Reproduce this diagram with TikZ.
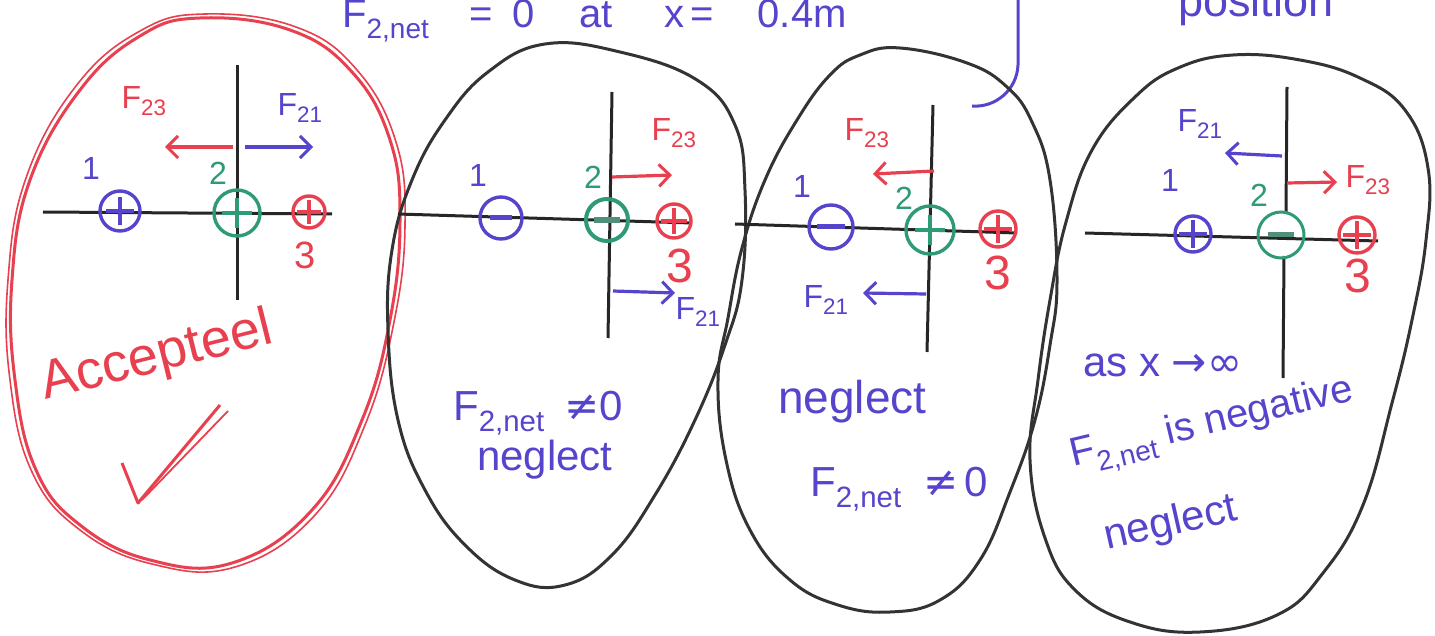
\documentclass[tikz,border=0pt]{standalone}
\usepackage{fontspec}
\setmainfont{Liberation Sans}
\newfontfamily\symf{DejaVu Sans}
\usetikzlibrary{arrows.meta}
\definecolor{pblue}{HTML}{5544CC}
\definecolor{pred}{HTML}{E8404F}
\definecolor{pgreen}{HTML}{2E9A78}
\definecolor{pgray}{HTML}{333333}
\newcommand{\chgplus}[3]{%
  \draw[sgn,#1] ([xshift=-#3 pt]#2.center) -- ([xshift=#3 pt]#2.center);
  \draw[sgn,#1] ([yshift=-#3 pt]#2.center) -- ([yshift=#3 pt]#2.center);}
\newcommand{\chgminus}[3]{%
  \draw[sgn,#1,line width=5pt] ([xshift=-#3 pt]#2.center) -- ([xshift=#3 pt]#2.center);}
\newcommand{\neqs}{{\symf ≠}}
\begin{document}
\begin{tikzpicture}[x=1pt,y=-1pt,
  blob/.style={draw=pgray, line width=3pt, line join=round},
  redblob/.style={draw=pred, line width=3pt, line join=round},
  axis/.style={draw=black!85, line width=3pt},
  chg/.style={circle, draw=#1, line width=3.4pt, inner sep=0pt},
  sgn/.style={line width=3.2pt},
  farrow/.style={draw=#1, line width=3.2pt, -{Straight Barb[length=11pt,width=22pt,line width=3pt]}},
  lbl/.style={text=#1, font=\fontsize{32}{32}\selectfont, inner sep=0pt},
  big/.style={text=#1, font=\fontsize{48}{48}\selectfont, inner sep=0pt},
  note/.style={text=pblue, font=\fontsize{42}{42}\selectfont, inner sep=0pt, anchor=base west},
]
\useasboundingbox (0,0) rectangle (1435,636);
\fill[white] (0,0) rectangle (1435,636);

% ---------- top texts ----------
\node[note, font=\fontsize{40}{40}\selectfont] (title) at (342,28)
  {F\textsubscript{2,net}\hspace{40pt}=\hspace{20pt}0\hspace{44pt}at\hspace{52pt}x\hspace{6pt}=\hspace{44pt}0.4m};
\node[note, font=\fontsize{45}{45}\selectfont] (pos) at (1178,17) {position};
\draw[pblue, line width=3pt] (1018,0) -- (1018,65) .. controls (1017,90) and (995,108) .. (972,106);

% ---------- panel 1 (accepted) ----------
\draw[redblob] plot[smooth cycle, tension=0.7] coordinates {
  (200,18) (290,30) (352,72) (390,140) (400,220) (390,320) (362,420) (312,510)
  (232,563) (150,560) (80,525) (36,470) (15,380) (12,280) (30,180) (80,90) (140,36)};
\draw[redblob, line width=1.6pt] plot[smooth cycle, tension=0.7] coordinates {
  (205,14) (296,27) (357,70) (396,142) (405,225) (394,322) (365,425) (315,515)
  (235,567) (152,564) (80,530) (32,472) (10,380) (8,280) (26,178) (76,86) (140,31)};
\draw[axis] (43,212) -- (332,214);
\draw[axis] (237,65) -- (237,300);
\node[chg=pblue, minimum size=40pt] (a1) at (120,211) {};
\chgplus{pblue}{a1}{14}
\node[chg=pgreen, minimum size=46pt] (a2) at (237,213) {};
\chgplus{pgreen}{a2}{15}
\node[chg=pred, minimum size=32pt] (a3) at (309,212) {};
\chgplus{pred}{a3}{12}
\node[lbl=pblue] (a1l) at (91,168) {1};
\node[lbl=pgreen] (a2l) at (218,173) {2};
\node[lbl=pred, font=\fontsize{38}{38}\selectfont] (a3l) at (305,255) {3};
\node[lbl=pred] (aF23) at (144,101) {F\textsubscript{23}};
\node[lbl=pblue] (aF21) at (300,108) {F\textsubscript{21}};
\coordinate (aA) at (233,147); \coordinate (aB) at (165,147);
\coordinate (aC) at (245,147); \coordinate (aD) at (313,147);
\draw[farrow=pred] (aA) -- (aB);
\draw[farrow=pblue] (aC) -- (aD);
\node[note, text=pred, rotate=14, font=\fontsize{54}{54}\selectfont] (acc) at (45,400) {Accepteel};
\draw[pred, line width=3pt, line join=round] (122,463) -- (138,503) -- (220,405);
\draw[pred, line width=1.8pt] (142,500) -- (228,411);

% ---------- panel 2 ----------
\draw[blob] plot[smooth cycle, tension=0.7] coordinates {
  (545,44) (620,52) (697,80) (735,125) (745,190) (742,280) (725,345) (695,420)
  (655,495) (612,555) (565,585) (515,580) (465,545) (425,490) (398,420) (388,330)
  (392,250) (412,180) (445,120) (488,72)};
\draw[axis] (398,214) -- (692,223);
\draw[axis] (612,92) -- (608,338);
\node[chg=pblue, minimum size=42pt] (b1) at (501,218) {};
\chgminus{pblue}{b1}{11}
\node[chg=pgreen, minimum size=42pt, line width=4pt] (b2) at (607,220) {};
\draw[pgreen!60!gray, line width=6pt] ([xshift=-13pt]b2.center) -- ([xshift=13pt]b2.center);
\node[chg=pred, minimum size=34pt] (b3) at (674,221) {};
\chgplus{pred}{b3}{13}
\node[lbl=pblue] (b1l) at (478,175) {1};
\node[lbl=pgreen] (b2l) at (593,177) {2};
\node[big=pred] (b3l) at (680,266) {3};
\node[lbl=pred] (bF23) at (674,133) {F\textsubscript{23}};
\node[lbl=pblue] (bF21) at (698,312) {F\textsubscript{21}};
\coordinate (bA) at (612,177); \coordinate (bB) at (672,175);
\coordinate (bC) at (613,291); \coordinate (bD) at (675,293);
\draw[farrow=pred] (bA) -- (bB);
\draw[farrow=pblue] (bC) -- (bD);
\node[note] (bt1) at (453,420) {F\textsubscript{2,net}\hspace{20pt}\neqs0};
\node[note] (bt2) at (477,470) {neglect};

% ---------- panel 3 ----------
\draw[blob] plot[smooth cycle, tension=0.7] coordinates {
  (900,48) (967,63) (1007,87) (1032,122) (1050,180) (1057,280) (1050,345) (1035,420)
  (1010,492) (980,560) (940,600) (890,612) (838,605) (790,580) (750,530) (726,460)
  (718,380) (728,318) (742,248) (765,180) (797,120) (830,75) (860,55)};
\draw[axis] (735,224) -- (1017,233);
\draw[axis] (933,105) -- (927,352);
\node[chg=pblue, minimum size=44pt] (c1) at (831,227) {};
\chgminus{pblue}{c1}{14}
\node[chg=pgreen, minimum size=48pt] (c2) at (930,230) {};
\chgplus{pgreen}{c2}{15}
\node[chg=pred, minimum size=36pt] (c3) at (998,229) {};
\chgplus{pred}{c3}{14}
\node[lbl=pblue] (c1l) at (802,186) {1};
\node[lbl=pgreen] (c2l) at (904,198) {2};
\node[big=pred] (c3l) at (998,273) {3};
\node[lbl=pred] (cF23) at (867,133) {F\textsubscript{23}};
\node[lbl=pblue] (cF21) at (826,300) {F\textsubscript{21}};
\coordinate (cA) at (934,171); \coordinate (cB) at (873,174);
\coordinate (cC) at (926,294); \coordinate (cD) at (863,293);
\draw[farrow=pred] (cA) -- (cB);
\draw[farrow=pblue] (cC) -- (cD);
\node[note, font=\fontsize{46}{46}\selectfont] (ct1) at (778,413) {neglect};
\node[note] (ct2) at (810,496) {F\textsubscript{2,net}\hspace{22pt}\neqs\hspace{6pt}0};

% ---------- panel 4 ----------
\draw[blob] plot[smooth cycle, tension=0.7] coordinates {
  (1233,55) (1300,60) (1360,78) (1405,110) (1428,168) (1426,240) (1412,320) (1392,403)
  (1363,505) (1323,573) (1277,615) (1200,632) (1130,622) (1075,590) (1045,538)
  (1030,460) (1038,380) (1050,300) (1066,222) (1092,150) (1135,97) (1178,68)};
\draw[axis] (1085,233) -- (1378,241);
\draw[axis] (1287,87) -- (1286,214);
\draw[axis] (1284,256) -- (1283,378);
\node[chg=pblue, minimum size=36pt] (d1) at (1193,234) {};
\chgplus{pblue}{d1}{14}
\node[chg=pgreen, minimum size=46pt, line width=3pt] (d2) at (1281,235) {};
\draw[pgreen!60!gray, line width=5pt] ([xshift=-13pt]d2.center) -- ([xshift=13pt]d2.center);
\node[chg=pred, minimum size=36pt] (d3) at (1357,235) {};
\chgplus{pred}{d3}{14}
\node[lbl=pblue] (d1l) at (1170,180) {1};
\node[lbl=pgreen] (d2l) at (1259,195) {2};
\node[big=pred] (d3l) at (1358,276) {3};
\node[lbl=pblue] (dF21) at (1200,124) {F\textsubscript{21}};
\node[lbl=pred] (dF23) at (1368,180) {F\textsubscript{23}};
\coordinate (dA) at (1282,156); \coordinate (dB) at (1225,153);
\coordinate (dC) at (1287,183); \coordinate (dD) at (1337,182);
\draw[farrow=pblue] (dA) -- (dB);
\draw[farrow=pred] (dC) -- (dD);
\node[note] (dt1) at (1083,376) {as x {\symf →∞}};
\node[note, rotate=13.4, font=\fontsize{40}{40}\selectfont] (dt2) at (1073,467) {F\textsubscript{2,net} is negative};
\node[note, rotate=12.7] (dt3) at (1107,550) {neglect};
\end{tikzpicture}
\end{document}
